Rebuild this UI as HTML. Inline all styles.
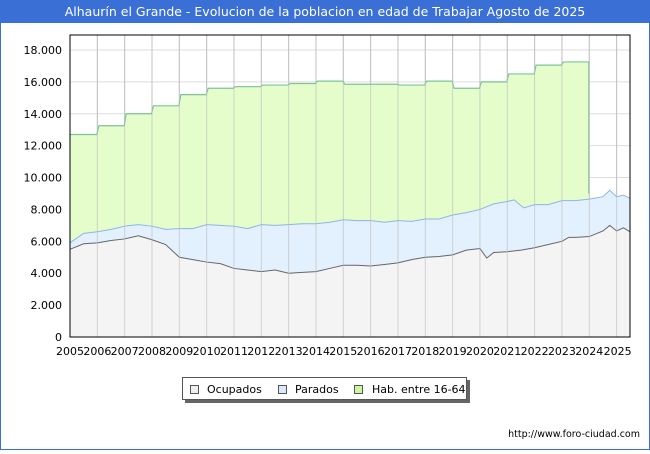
<!DOCTYPE html>
<html><head><meta charset="utf-8">
<style>
html,body{margin:0;padding:0;background:#fff}
body{width:650px;height:450px;overflow:hidden;font-family:"DejaVu Sans","Liberation Sans",sans-serif}
</style></head>
<body>
<svg id="chart" width="650" height="450" xmlns="http://www.w3.org/2000/svg" font-family="DejaVu Sans, Liberation Sans, sans-serif">
<rect x="0.5" y="0.5" width="649" height="449" fill="#fff" stroke="#3a70d6"/>
<rect x="0" y="0" width="650" height="23" fill="#3a70d6"/>
<text x="325" y="16" text-anchor="middle" font-size="12.5" fill="#fff">Alhaurín el Grande - Evolucion de la poblacion en edad de Trabajar Agosto de 2025</text>
<g id="grid"></g>
<g id="series"></g>
<g id="axes"></g>
<g>
<rect x="185" y="380" width="285" height="23" fill="#666"/>
<rect x="182.5" y="377.5" width="284" height="22" fill="#fff" stroke="#555"/>
<rect x="190.5" y="385.5" width="8" height="8" fill="#f0f0f0" stroke="#555"/>
<text x="207" y="393" font-size="11" fill="#000">Ocupados</text>
<rect x="278.5" y="385.5" width="8" height="8" fill="#d8eafc" stroke="#555"/>
<text x="295" y="393" font-size="11" fill="#000">Parados</text>
<rect x="354.5" y="385.5" width="8" height="8" fill="#ccf5a0" stroke="#555"/>
<text x="372" y="393" font-size="11" fill="#000">Hab. entre 16-64</text>
</g>
<text x="640" y="437" text-anchor="end" font-size="9.5" fill="#000">http://www.foro-ciudad.com</text>
</svg>
<script>
const yearTicks = [2005,2006,2007,2008,2009,2010,2011,2012,2013,2014,2015,2016,2017,2018,2019,2020,2021,2022,2023,2024,2025];
const yTicks = [0,2000,4000,6000,8000,10000,12000,14000,16000,18000];
const yTickLabels = ["0","2.000","4.000","6.000","8.000","10.000","12.000","14.000","16.000","18.000"];
const habYears = [2005,2006,2007,2008,2009,2010,2011,2012,2013,2014,2015,2016,2017,2018,2019,2020,2021,2022,2023];
const habValues = [12700,13250,14000,14500,15200,15600,15700,15800,15900,16050,15850,15850,15800,16050,15600,16000,16500,17050,17250];
const actTimes = [2005,2005.25,2005.5,2006,2006.5,2007,2007.5,2008,2008.5,2009,2009.5,2010,2010.5,2011,2011.5,2012,2012.5,2013,2013.5,2014,2014.5,2015,2015.5,2016,2016.5,2017,2017.5,2018,2018.5,2019,2019.5,2020,2020.5,2021,2021.25,2021.6,2022,2022.5,2023,2023.5,2024,2024.5,2024.75,2025,2025.25,2025.5];
const actValues = [5900,6200,6500,6600,6750,6950,7050,6950,6750,6800,6800,7050,7000,6950,6800,7050,7000,7050,7100,7100,7200,7350,7300,7300,7200,7300,7250,7400,7400,7650,7800,8000,8350,8500,8600,8100,8300,8300,8550,8550,8650,8800,9200,8800,8900,8700];
const ocuTimes = [2005,2005.5,2006,2006.5,2007,2007.5,2008,2008.5,2009,2009.5,2010,2010.5,2011,2011.5,2012,2012.5,2013,2013.5,2014,2014.5,2015,2015.5,2016,2016.5,2017,2017.5,2018,2018.5,2019,2019.5,2020,2020.25,2020.5,2021,2021.5,2022,2022.5,2023,2023.25,2023.5,2024,2024.5,2024.75,2025,2025.25,2025.5];
const ocuValues = [5500,5850,5900,6050,6150,6350,6100,5800,5000,4850,4700,4600,4300,4200,4100,4200,4000,4050,4100,4300,4500,4500,4450,4550,4650,4850,5000,5050,5150,5450,5550,4950,5300,5350,5450,5600,5800,6000,6250,6250,6300,6650,7000,6650,6850,6600];

const X0=70,X1=630,Y0=337,YT=35;
const xs=t=>X0+(t-2005)*27.33;
const ys=v=>Y0-v*(287/18000);
const NS='http://www.w3.org/2000/svg';
function mk(tag,attrs,parent){const e=document.createElementNS(NS,tag);for(const k in attrs)e.setAttribute(k,attrs[k]);parent.appendChild(e);return e;}
const grid=document.getElementById('grid'),ser=document.getElementById('series'),ax=document.getElementById('axes');
mk('rect',{x:X0,y:YT,width:X1-X0,height:Y0-YT,fill:'#fff'},grid);
yTicks.forEach((v,i)=>{
  const l=mk('line',{x1:X0,x2:X1,y1:ys(v),y2:ys(v),stroke:'#ddd'},grid);
  
  
  const t=mk('text',{x:62,y:ys(v)+4,'text-anchor':'end','font-size':'11',fill:'#000'},ax);
  t.textContent=yTickLabels[i];
  
  
});
yearTicks.forEach(y=>{
  const l=mk('line',{x1:xs(y),x2:xs(y),y1:YT,y2:Y0,stroke:'#ccc'},grid);
  
  
  const t=mk('text',{x:xs(y)+(y==2025?1:0),y:355,'text-anchor':'middle','font-size':'11',fill:'#000'},ax);
  t.textContent=String(y);
  
  
});
// hab step
let hp=[];
habYears.forEach((y,i)=>{const x0=xs(y)+(i?1.5:0),x1=xs(y+1)-0.5;hp.push([x0,ys(habValues[i])],[x1,ys(habValues[i])]);});
const habEnd=xs(2024)-0.5;
const habLine='M'+hp.map(p=>p.join(',')).join('L');
const hf=mk('path',{d:habLine+`L${habEnd},${Y0}L${X0},${Y0}Z`,fill:'#e5fccb'},ser);


const hl=mk('path',{d:habLine+`L${habEnd},${ys(9000)}`,fill:'none',stroke:'#7cc49a','stroke-width':1.2},ser);


// active
const actPts=actTimes.map((t,i)=>[xs(Math.min(t,2025.5)),ys(actValues[i])]);
actPts[actPts.length-1][0]=X1;
const aLine='M'+actPts.map(p=>p.join(',')).join('L');
const af=mk('path',{d:aLine+`L${X1},${Y0}L${X0},${Y0}Z`,fill:'#e3f0fd'},ser);


const al=mk('path',{d:aLine,fill:'none',stroke:'#8fb4e8','stroke-width':1},ser);


const oPts=ocuTimes.map((t,i)=>[xs(t),ys(ocuValues[i])]);
oPts[oPts.length-1][0]=X1;
const oLine='M'+oPts.map(p=>p.join(',')).join('L');
const of=mk('path',{d:oLine+`L${X1},${Y0}L${X0},${Y0}Z`,fill:'#f4f4f4'},ser);


const ol=mk('path',{d:oLine,fill:'none',stroke:'#666','stroke-width':1},ser);


// redraw vertical grid lines faintly over areas
yearTicks.forEach(y=>{
  const l=mk('line',{x1:xs(y),x2:xs(y),y1:YT,y2:Y0,stroke:'#bbb','stroke-opacity':0.6},ser);
  
  
});
const box=mk('rect',{x:X0,y:YT,width:X1-X0,height:Y0-YT,fill:'none',stroke:'#000'},ax);


</script>
</body></html>
